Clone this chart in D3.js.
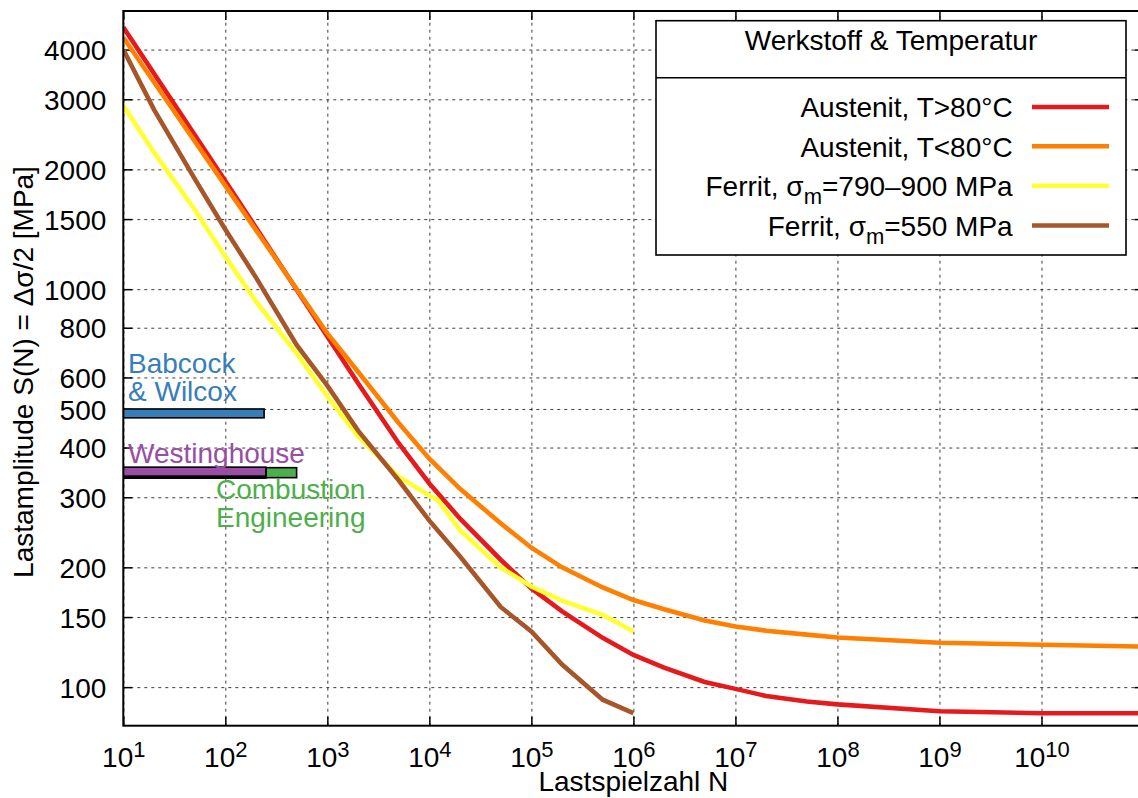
<!DOCTYPE html>
<html>
<head>
<meta charset="utf-8">
<script src="https://cdn.jsdelivr.net/npm/d3@7"></script>
<style>
  html, body { margin: 0; padding: 0; background: #fff; }
  svg { display: block; font-family: "Liberation Sans", Arial, Helvetica, sans-serif; }
</style>
</head>
<body>
<svg id="chart" width="1138" height="798"></svg>
<script>
// ---------------- data ----------------
const seriesNames = ["Austenit, T>80°C", "Austenit, T<80°C", "Ferrit, σm=790–900 MPa", "Ferrit, σm=550 MPa"];
const seriesColors = ["#e41a1c", "#ff7f00", "#ffff33", "#a65628"];

const N_austenit = [10, 100, 1e3, 2e3, 5e3, 1e4, 2e4, 5e4, 1e5, 2e5, 5e5, 1e6, 2e6, 5e6, 1e7, 2e7, 5e7, 1e8, 1e9, 1e10, 1e11];
const S_austenitHot  = [4550, 1870, 760, 580, 410, 325, 265, 209, 177, 155, 133, 120.5, 112, 103, 99, 95, 92, 90.5, 87, 86, 86];
const S_austenitCold = [4290, 1820, 774, 620, 461, 375, 315, 258, 224, 200, 178, 165.5, 157, 147, 142, 138.6, 135.5, 133.3, 129.3, 127.8, 126.4];

const N_ferritHigh = [10, 20, 50, 100, 200, 500, 1e3, 2e3, 5e3, 1e4, 1.2e4, 2e4, 5e4, 1e5, 2e5, 5e5, 1e6];
const S_ferritHigh = [2896, 2206, 1586, 1207, 931, 690, 538, 427, 338, 303, 296, 248, 200, 179, 165, 152, 138];
const N_ferrit550  = [10, 20, 50, 100, 200, 500, 1e3, 2e3, 5e3, 1e4, 2e4, 5e4, 1e5, 2e5, 5e5, 1e6];
const S_ferrit550  = [3999, 2827, 1896, 1413, 1069, 724, 572, 441, 331, 262, 213, 159, 138, 114, 93, 86];

// manufacturer bars (drawn in this order)
const barIds    = ["bw", "ce", "black", "w"];
const barColors = ["#377eb8", "#4daf4a", "#000000", "#984ea3"];
const barNmin   = [10, 10, 10, 10];
const barNmax   = [240, 500, 250, 250];
const barSlow   = [475, 336, 335, 339];
const barShigh  = [500, 356, 352, 357];

const xTickExps = [1, 2, 3, 4, 5, 6, 7, 8, 9, 10];
const yTicks = [100, 150, 200, 300, 400, 500, 600, 800, 1000, 1500, 2000, 3000, 4000];

// ---------------- layout ----------------
const svg = d3.select("#chart");
const X0 = 123.3, X1 = 1143.5, Y0 = 725.7, Y1 = 11;
const x = d3.scaleLog().domain([10, 1e11]).range([X0, X1]);
const y = d3.scaleLog().domain([80, 5000]).range([Y0, Y1]);
const xTicks = xTickExps.map(e => Math.pow(10, e));

svg.append("rect").attr("width", 1138).attr("height", 798).attr("fill", "#fff");

svg.append("defs").append("clipPath").attr("id", "plotclip")
  .append("rect").attr("x", X0).attr("y", Y1).attr("width", X1 - X0).attr("height", Y0 - Y1);

// grid
const grid = svg.append("g").attr("class", "grid");
grid.append("g").attr("transform", `translate(0,${Y0})`)
  .call(d3.axisBottom(x).tickValues(xTicks).tickSize(-(Y0 - Y1)).tickFormat(""))
  .call(g => g.select(".domain").remove());
grid.append("g").attr("transform", `translate(${X0},0)`)
  .call(d3.axisLeft(y).tickValues(yTicks).tickSize(-(X1 - X0)).tickFormat(""))
  .call(g => g.select(".domain").remove());
grid.selectAll("line").attr("stroke", "#000").attr("stroke-width", 0.9)
  .attr("stroke-dasharray", "3,4").attr("opacity", 0.85);

// axes ticks (inward)
const fontSize = 28;
const axB = svg.append("g").attr("transform", `translate(0,${Y0})`)
  .call(d3.axisBottom(x).tickValues(xTicks).tickSize(-9).tickSizeOuter(0).tickPadding(20).tickFormat(""));
axB.select(".domain").remove();
axB.selectAll(".tick").each(function(d, i) {
  const t = d3.select(this).select("text")
    .attr("y", 41.5).attr("dy", null)
    .attr("font-size", fontSize).attr("fill", "#000")
    .attr("font-family", "Liberation Sans, Arial, sans-serif");
  t.text(null);
  t.append("tspan").text("10");
  t.append("tspan").attr("dy", -10.5).attr("font-size", 22).text(String(xTickExps[i]));
});
const axT = svg.append("g").attr("transform", `translate(0,${Y1})`)
  .call(d3.axisTop(x).tickValues(xTicks).tickSize(-9).tickSizeOuter(0).tickFormat(""));
axT.select(".domain").remove();

const axL = svg.append("g").attr("transform", `translate(${X0},0)`)
  .call(d3.axisLeft(y).tickValues(yTicks).tickSize(-9).tickSizeOuter(0).tickPadding(17).tickFormat(d3.format("d")));
axL.select(".domain").remove();
axL.selectAll("text").attr("font-size", fontSize).attr("fill", "#000").attr("dy", "0.36em")
  .attr("font-family", "Liberation Sans, Arial, sans-serif");
const axR = svg.append("g").attr("transform", `translate(${X1},0)`)
  .call(d3.axisRight(y).tickValues(yTicks).tickSize(-9).tickSizeOuter(0).tickFormat(""));
axR.select(".domain").remove();
svg.selectAll(".tick line").attr("stroke", "#000").attr("stroke-width", 1.5);
grid.selectAll(".tick line").attr("stroke-width", 0.9);

// bars
const plot = svg.append("g").attr("clip-path", "url(#plotclip)");
barIds.forEach((id, i) => {
  plot.append("rect")
    .attr("x", x(barNmin[i]))
    .attr("y", y(barShigh[i]))
    .attr("width", x(barNmax[i]) - x(barNmin[i]))
    .attr("height", y(barSlow[i]) - y(barShigh[i]))
    .attr("fill", barColors[i]).attr("stroke", "#000").attr("stroke-width", 1.6);
});

// curves
const line = d3.line().x(d => x(d[0])).y(d => y(d[1]));
const curveData = [
  d3.zip(N_austenit, S_austenitHot),
  d3.zip(N_austenit, S_austenitCold),
  d3.zip(N_ferritHigh, S_ferritHigh),
  d3.zip(N_ferrit550, S_ferrit550)
];
curveData.forEach((pts, i) => {
  plot.append("path").datum(pts).attr("d", line)
    .attr("fill", "none").attr("stroke", seriesColors[i]).attr("stroke-width", 4.6)
    .attr("stroke-linejoin", "miter").attr("stroke-linecap", "butt");
});

// annotations
const ann = svg.append("g").attr("font-size", fontSize);
ann.append("text").attr("x", 128).attr("y", 372.5).attr("fill", "#377eb8").text("Babcock");
ann.append("text").attr("x", 128).attr("y", 400.5).attr("fill", "#377eb8").text("& Wilcox");
ann.append("text").attr("x", 128).attr("y", 462.5).attr("fill", "#984ea3").text("Westinghouse");
ann.append("text").attr("x", 216).attr("y", 499).attr("fill", "#4daf4a").text("Combustion");
ann.append("text").attr("x", 216).attr("y", 527).attr("fill", "#4daf4a").text("Engineering");

// frame
svg.append("rect").attr("x", X0).attr("y", Y1).attr("width", X1 - X0).attr("height", Y0 - Y1)
  .attr("fill", "none").attr("stroke", "#000").attr("stroke-width", 2);

// axis labels
svg.append("text").attr("x", (X0 + X1) / 2).attr("y", 791).attr("text-anchor", "middle")
  .attr("font-size", fontSize).text("Lastspielzahl N");
svg.append("text").attr("transform", "translate(32.5,372) rotate(-90)").attr("text-anchor", "middle")
  .attr("font-size", fontSize).text("Lastamplitude S(N) = Δσ/2 [MPa]");

// legend
const lg = svg.append("g");
lg.append("rect").attr("x", 656).attr("y", 20.7).attr("width", 470).attr("height", 234.3)
  .attr("fill", "#fff").attr("stroke", "#000").attr("stroke-width", 1.6);
lg.append("line").attr("x1", 656).attr("x2", 1126).attr("y1", 77.7).attr("y2", 77.7)
  .attr("stroke", "#000").attr("stroke-width", 1.6);
lg.append("text").attr("x", 891).attr("y", 50).attr("text-anchor", "middle")
  .attr("font-size", fontSize).text("Werkstoff & Temperatur");
const legBase = [117.3, 156.7, 196.2, 235.6];
const legLineY = [107, 146.3, 185.7, 225.5];
seriesNames.forEach((name, i) => {
  const t = lg.append("text").attr("x", 1012.7).attr("y", legBase[i]).attr("text-anchor", "end")
    .attr("font-size", fontSize);
  const m = name.indexOf("σm");
  if (m >= 0) {
    t.append("tspan").text(name.slice(0, m + 1));
    t.append("tspan").attr("dy", 8).attr("font-size", 22).text("m");
    t.append("tspan").attr("dy", -8).text(name.slice(m + 2));
  } else {
    t.text(name);
  }
  lg.append("line").attr("x1", 1032).attr("x2", 1109).attr("y1", legLineY[i]).attr("y2", legLineY[i])
    .attr("stroke", seriesColors[i]).attr("stroke-width", 4.6);
});
</script>
</body>
</html>
